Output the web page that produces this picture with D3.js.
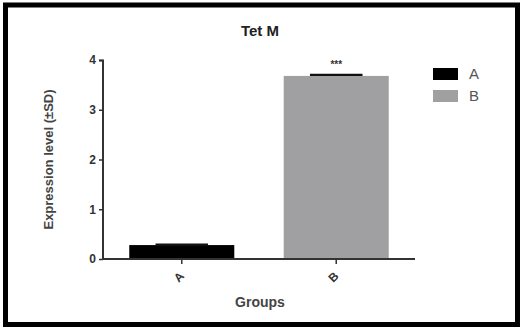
<!DOCTYPE html>
<html>
<head>
<meta charset="utf-8">
<script src="https://cdn.jsdelivr.net/npm/d3@7"></script>
<style>
  html, body { margin: 0; padding: 0; background: #fff; }
  svg { display: block; font-family: Arial, "Liberation Sans", sans-serif; }
</style>
</head>
<body>
<svg id="chart" width="521" height="329"></svg>
<script>
// Tet M expression by group
const groups = ["A", "B"];
const means = [0.28, 3.68];
const sds = [0.01, 0.02];
const significance = ["", "***"];
const barColors = ["#000000", "#a0a0a3"];
const yTicks = [0, 1, 2, 3, 4];

const svg = d3.select("#chart");
const W = 521, H = 329;

// outer frame
svg.append("rect")
  .attr("x", 5.5).attr("y", 5).attr("width", 512).attr("height", 319.5)
  .attr("fill", "none").attr("stroke", "#000").attr("stroke-width", 5);

const margin = { left: 103, right: 106, top: 60, bottom: 70 };
const plotW = W - margin.left - margin.right;
const plotH = H - margin.top - margin.bottom;

const g = svg.append("g").attr("transform", `translate(${margin.left},${margin.top})`);

const x = d3.scaleBand().domain(groups).range([0, plotW]).paddingInner(0.32).paddingOuter(0.17);
const y = d3.scaleLinear().domain([0, 4]).range([plotH, 0]);

// bars
g.selectAll("rect.bar").data(groups).join("rect")
  .attr("class", "bar")
  .attr("x", d => x(d))
  .attr("width", x.bandwidth())
  .attr("y", (d, i) => y(means[i]))
  .attr("height", (d, i) => plotH - y(means[i]))
  .attr("fill", (d, i) => barColors[i]);

// error bars
groups.forEach((d, i) => {
  const cx = x(d) + x.bandwidth() / 2;
  const capW = x.bandwidth() / 2;
  const top = y(means[i] + sds[i]);
  g.append("line")
    .attr("x1", cx).attr("x2", cx)
    .attr("y1", y(means[i])).attr("y2", top)
    .attr("stroke", "#111").attr("stroke-width", 2);
  g.append("line")
    .attr("x1", cx - capW / 2).attr("x2", cx + capW / 2)
    .attr("y1", top).attr("y2", top)
    .attr("stroke", "#111").attr("stroke-width", 2.2);
  if (significance[i]) {
    g.append("text")
      .attr("x", cx).attr("y", top - 7)
      .attr("text-anchor", "middle")
      .attr("font-size", 10).attr("font-weight", "bold").attr("fill", "#333")
      .text(significance[i]);
  }
});

// y axis
const yAxis = g.append("g")
  .call(d3.axisLeft(y).tickValues(yTicks).tickFormat(d3.format("d")).tickSize(4).tickPadding(3));
yAxis.select(".domain").attr("stroke", "#333").attr("stroke-width", 2).attr("d", `M-4,0.5H0V${plotH}`);
yAxis.selectAll(".tick line").attr("stroke", "#333").attr("stroke-width", 1.5);
yAxis.selectAll(".tick text").attr("font-size", 12).attr("font-weight", "bold").attr("fill", "#333");

// x axis
const xAxis = g.append("g").attr("transform", `translate(0,${plotH})`)
  .call(d3.axisBottom(x).tickSize(5).tickPadding(4));
xAxis.select(".domain").attr("stroke", "#333").attr("stroke-width", 2).attr("d", `M0,0H${plotW}`);
xAxis.selectAll(".tick line").attr("stroke", "#333").attr("stroke-width", 1.5);
xAxis.selectAll(".tick text")
  .attr("font-size", 12).attr("font-weight", "bold").attr("fill", "#333")
  .attr("text-anchor", "middle")
  .attr("x", 0).attr("y", 0).attr("dy", "0.35em")
  .attr("transform", "translate(-3,18) rotate(-45)");

// titles
svg.append("text")
  .attr("x", 260).attr("y", 36)
  .attr("text-anchor", "middle")
  .attr("font-size", 15).attr("font-weight", "bold").attr("fill", "#222")
  .text("Tet M");

svg.append("text")
  .attr("x", 260).attr("y", 307)
  .attr("text-anchor", "middle")
  .attr("font-size", 14).attr("font-weight", "bold").attr("fill", "#444")
  .text("Groups");

svg.append("text")
  .attr("transform", `translate(53,${margin.top + plotH / 2}) rotate(-90)`)
  .attr("text-anchor", "middle")
  .attr("font-size", 13).attr("font-weight", "bold").attr("fill", "#444")
  .text("Expression level (±SD)");

// legend
const legend = svg.append("g").attr("transform", "translate(433,68)");
groups.forEach((d, i) => {
  const row = legend.append("g").attr("transform", `translate(0,${i * 22})`);
  row.append("rect").attr("width", 25).attr("height", 12).attr("fill", barColors[i]);
  row.append("text").attr("x", 36).attr("y", 11)
    .attr("font-size", 15).attr("fill", "#555").text(d);
});
</script>
</body>
</html>
